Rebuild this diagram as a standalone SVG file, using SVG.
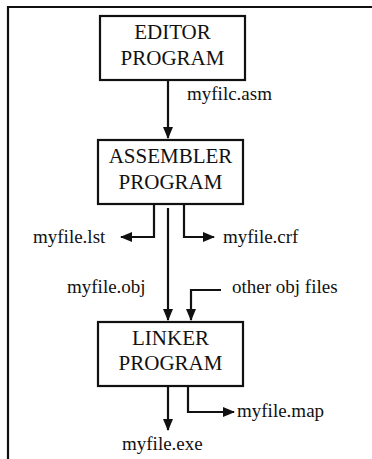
<svg xmlns="http://www.w3.org/2000/svg" width="372" height="459" viewBox="0 0 372 459">
<style>
.box{fill:#fff;stroke:#111;stroke-width:2.2}
.frame{fill:none;stroke:#111;stroke-width:2.2}
.t{font-family:"Liberation Serif","Times New Roman",serif;fill:#111}
.big{font-size:21px;text-anchor:middle}
.lbl{font-size:19px}
.c{fill:none;stroke:#111;stroke-width:2.2}
</style>
<defs>
<marker id="ah" markerWidth="12" markerHeight="10" refX="11" refY="5" orient="auto" markerUnits="userSpaceOnUse">
<path d="M0,0 L12,5 L0,10 Z" fill="#111"/>
</marker>
</defs>
<rect width="372" height="459" fill="#fff"/>
<path class="frame" d="M8,459 L8,7 L372,7"/>
<g id="editor">
<rect class="box" x="100" y="16" width="145" height="64"/>
<text class="t big" x="172.5" y="39">EDITOR</text>
<text class="t big" x="172.5" y="65">PROGRAM</text>
</g>
<g id="assembler">
<rect class="box" x="98" y="140" width="145" height="64"/>
<text class="t big" x="170.5" y="163">ASSEMBLER</text>
<text class="t big" x="170.5" y="189">PROGRAM</text>
</g>
<g id="linker">
<rect class="box" x="98" y="322" width="145" height="64"/>
<text class="t big" x="170.5" y="345">LINKER</text>
<text class="t big" x="170.5" y="370">PROGRAM</text>
</g>
<g id="connectors">
<path class="c" d="M168,80 L168,138" marker-end="url(#ah)"/>
<path class="c" d="M154,204 L154,237 L121,237" marker-end="url(#ah)"/>
<path class="c" d="M184,204 L184,237 L214,237" marker-end="url(#ah)"/>
<path class="c" d="M168,208 L168,320" marker-end="url(#ah)"/>
<path class="c" d="M221,290 L191,290 L191,320" marker-end="url(#ah)"/>
<path class="c" d="M168,386 L168,430" marker-end="url(#ah)"/>
<path class="c" d="M188,386 L188,412 L234,412" marker-end="url(#ah)"/>
</g>
<g id="labels">
<text class="t lbl" x="187" y="100">myfilc.asm</text>
<text class="t lbl" x="33" y="243">myfile.lst</text>
<text class="t lbl" x="223" y="243">myfile.crf</text>
<text class="t lbl" x="67" y="293">myfile.obj</text>
<text class="t lbl" x="232" y="293">other obj files</text>
<text class="t lbl" x="237" y="417">myfile.map</text>
<text class="t lbl" x="122" y="450">myfile.exe</text>
</g>
</svg>
